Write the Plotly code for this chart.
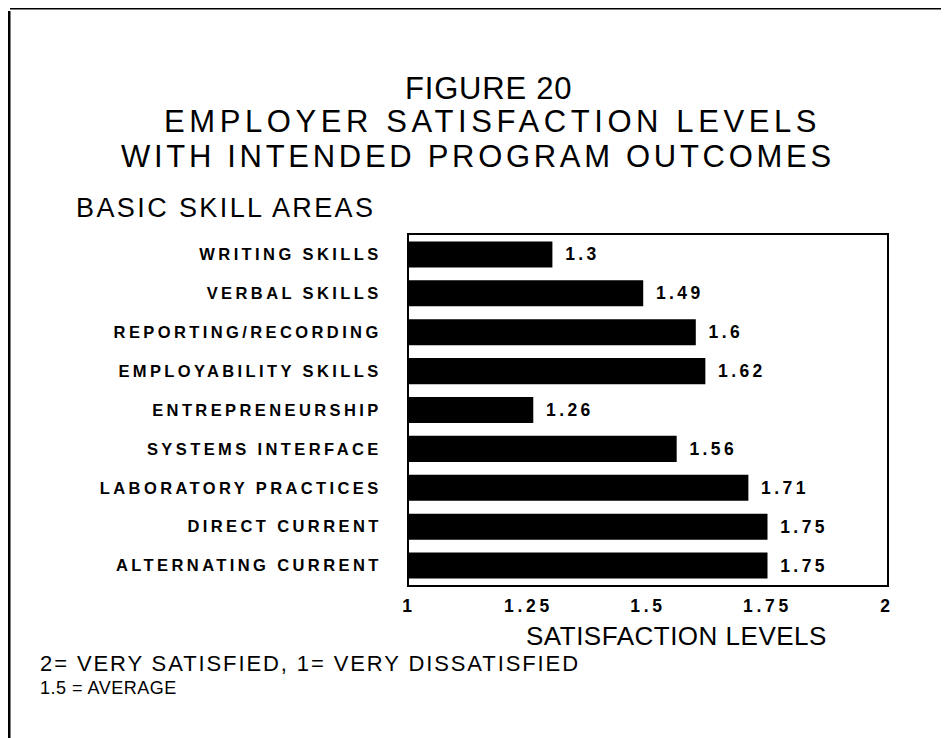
import plotly.graph_objects as go

categories = ["WRITING SKILLS", "VERBAL SKILLS", "REPORTING/RECORDING",
              "EMPLOYABILITY SKILLS", "ENTREPRENEURSHIP", "SYSTEMS INTERFACE",
              "LABORATORY PRACTICES", "DIRECT CURRENT", "ALTERNATING CURRENT"]
values = [1.3, 1.49, 1.6, 1.62, 1.26, 1.56, 1.71, 1.75, 1.75]
value_labels = ["1.3", "1.49", "1.6", "1.62", "1.26", "1.56", "1.71", "1.75", "1.75"]
x_tick_vals = [1, 1.25, 1.5, 1.75, 2]
x_tick_text = ["1", "1.25", "1.5", "1.75", "2"]

W, H = 949, 738
L, R, T, B = 401, 70, 227, 161
PW, PH = W - L - R, H - T - B

def px(x):
    return (x - L) / PW

def py(y):
    return (H - B - y) / PH

def sp(s, ls=3):
    return f'<span style="letter-spacing:{ls}px">{s}</span>'

FONT = "Liberation Sans, Arial, sans-serif"

fig = go.Figure(go.Bar(
    x=values, y=categories, orientation="h",
    marker=dict(color="black", line=dict(width=0)),
    text=["&nbsp;&nbsp;" + sp(v, 3.4) for v in value_labels],
    textposition="outside", cliponaxis=False,
    textfont=dict(family=FONT, size=17.5, color="black", weight="bold"),
    width=0.67,
))

fig.update_layout(
    width=W, height=H,
    margin=dict(l=L, r=R, t=T, b=B, autoexpand=False),
    paper_bgcolor="white", plot_bgcolor="white",
    showlegend=False,
    font=dict(family=FONT, color="black"),
    xaxis=dict(range=[1, 2], tickvals=x_tick_vals, ticktext=[sp(t, 3.8) for t in x_tick_text],
               showgrid=False, zeroline=False, showline=True, mirror=True,
               linecolor="black", linewidth=2, ticks="", ticklabelstandoff=4,
               tickfont=dict(family=FONT, size=17.5, color="black", weight="bold")),
    yaxis=dict(autorange="reversed", tickvals=categories,
               ticktext=[sp(c, 3.4) for c in categories],
               showgrid=False, zeroline=False, showline=True, mirror=True,
               linecolor="black", linewidth=2, ticks="", ticklabelstandoff=22,
               tickfont=dict(family=FONT, size=16.5, color="black", weight="bold")),
)

annos = [
    ("FIGURE 20", 480, 80.5, 31, "center", 0.8),
    ("EMPLOYER SATISFACTION LEVELS", 484, 114, 31, "center", 4.6),
    ("WITH INTENDED PROGRAM OUTCOMES", 470, 148, 31, "center", 3.7),
    ("BASIC SKILL AREAS", 66, 200, 27, "left", 2.4),
    ("SATISFACTION LEVELS", 668, 628, 26, "center", 0.5),
    ("2= VERY SATISFIED, 1= VERY DISSATISFIED", 30, 655, 22, "left", 1.9),
    ("1.5 = AVERAGE", 30, 680, 18, "left", 0.5),
]
for text, x, y, size, anchor, ls in annos:
    fig.add_annotation(text=sp(text, ls), x=px(x), y=py(y), xref="paper", yref="paper",
                       xanchor=anchor, yanchor="middle", showarrow=False,
                       font=dict(family=FONT, size=size, color="black"))

# page border lines of the scanned figure
fig.add_shape(type="line", xref="paper", yref="paper", x0=px(1), x1=px(1), y0=py(3), y1=py(738),
              line=dict(color="black", width=3))
fig.add_shape(type="line", xref="paper", yref="paper", x0=px(2), x1=px(949), y0=py(0.8), y1=py(0.8),
              line=dict(color="black", width=1.5))

fig.write_html("out.html")
